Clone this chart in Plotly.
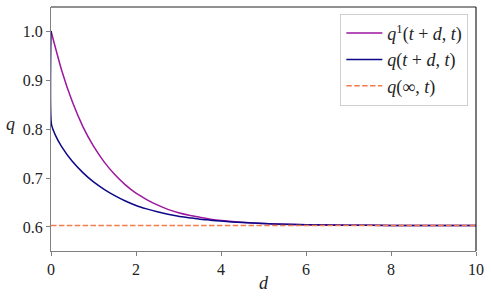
import plotly.graph_objects as go

# q^1(t+d, t)
d_q1 = [0, 0.25, 0.5, 0.75, 1.0, 1.25, 1.5, 1.75, 2.0, 2.25, 2.5, 2.75, 3.0, 3.25,
        3.5, 3.75, 4.0, 4.5, 5.0, 5.5, 6, 7, 8, 9, 10]
q1_vals = [1.000, 0.920, 0.856, 0.805, 0.765, 0.733, 0.707, 0.686, 0.669, 0.656,
           0.645, 0.636, 0.629, 0.624, 0.620, 0.616, 0.613, 0.6095, 0.607, 0.6055,
           0.6045, 0.6036, 0.6032, 0.6031, 0.603]

# q(t+d, t)
d_q = [0, 0.01, 0.1, 0.25, 0.5, 0.75, 1.0, 1.25, 1.5, 1.75, 2.0, 2.25, 2.5, 2.75,
       3.0, 3.25, 3.5, 3.75, 4.0, 4.5, 5.0, 5.5, 6, 7, 8, 9, 10]
q_vals = [1.000, 0.810, 0.788, 0.764, 0.734, 0.711, 0.692, 0.677, 0.664, 0.653,
          0.644, 0.637, 0.631, 0.626, 0.622, 0.619, 0.616, 0.614, 0.612, 0.609,
          0.607, 0.6055, 0.6045, 0.6036, 0.6032, 0.6031, 0.603]

# q(inf, t)
d_inf = [0, 10]
q_inf = [0.603, 0.603]

x_ticks = [0, 2, 4, 6, 8, 10]
y_ticks = [0.6, 0.7, 0.8, 0.9, 1.0]

FONT = "Liberation Serif, Times New Roman, serif"

fig = go.Figure()
fig.add_trace(go.Scatter(x=d_q1, y=q1_vals, mode="lines",
                         line=dict(color="#9c179e", width=1.5, shape="spline", smoothing=0.6),
                         name="<i>q</i><sup>1</sup>(<i>t</i> + <i>d</i>, <i>t</i>)"))
fig.add_trace(go.Scatter(x=d_q, y=q_vals, mode="lines",
                         line=dict(color="#0d0887", width=1.5, shape="spline", smoothing=0.6),
                         name="<i>q</i>(<i>t</i> + <i>d</i>, <i>t</i>)"))
fig.add_trace(go.Scatter(x=d_inf, y=q_inf, mode="lines",
                         line=dict(color="#f47b4c", width=1.5, dash="5.5px,2.4px"),
                         name="<i>q</i>(∞, <i>t</i>)"))

fig.update_layout(
    width=491, height=297,
    margin=dict(l=51, r=15, t=7, b=46, autoexpand=False),
    plot_bgcolor="white", paper_bgcolor="white",
    font=dict(family=FONT, size=16, color="#222"),
    showlegend=True,
    legend=dict(x=0.982, y=0.972, xanchor="right", yanchor="top",
                bgcolor="rgba(255,255,255,0.85)", bordercolor="#d0d0d0", borderwidth=1,
                font=dict(family=FONT, size=18), tracegroupgap=0, itemwidth=36),
    xaxis=dict(range=[0, 10], tickvals=x_ticks, ticktext=[str(v) for v in x_ticks],
               showgrid=False, zeroline=False, showline=True, linecolor="#808080", linewidth=1.2,
               ticks="outside", ticklen=4, tickcolor="#808080", automargin=False),
    yaxis=dict(range=[0.551, 1.049], tickvals=y_ticks, ticktext=[f"{v:.1f}" for v in y_ticks],
               showgrid=False, zeroline=False, showline=True, linecolor="#808080", linewidth=1.2,
               ticks="outside", ticklen=4, tickcolor="#808080", automargin=False),
    annotations=[dict(text="<i>q</i>", x=-0.095, y=0.52, xref="paper", yref="paper",
                      xanchor="center", yanchor="middle",
                      showarrow=False, font=dict(family=FONT, size=18)),
                 dict(text="<i>d</i>", x=0.5, y=-0.132, xref="paper", yref="paper",
                      xanchor="center", yanchor="middle",
                      showarrow=False, font=dict(family=FONT, size=18))],
    shapes=[dict(type="line", xref="paper", yref="paper", x0=0, x1=1, y0=1, y1=1,
                 line=dict(color="#222", width=1.2)),
            dict(type="line", xref="paper", yref="paper", x0=1, x1=1, y0=0, y1=1,
                 line=dict(color="#222", width=1.2))],
)

fig.write_html("out.html", config={"displayModeBar": False})

# remove the default page margin so the figure sits at the window's top-left
with open("out.html", "r", encoding="utf-8") as f:
    html = f.read()
html = html.replace("<head>", "<head><style>html,body{margin:0;padding:0;}</style>", 1)
with open("out.html", "w", encoding="utf-8") as f:
    f.write(html)
